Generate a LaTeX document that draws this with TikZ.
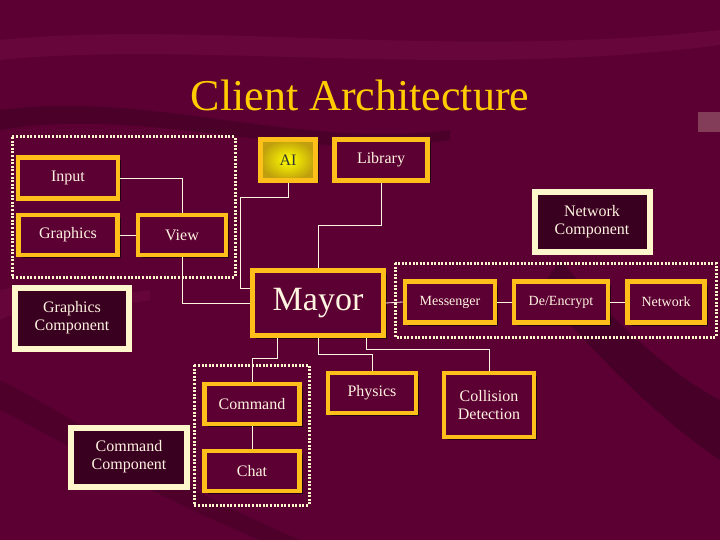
\documentclass[tikz,border=0pt]{standalone}
\usepackage{fontspec}
\setmainfont{Liberation Serif}
\usetikzlibrary{shadows}
\definecolor{bg}{HTML}{5C0033}
\definecolor{bgd}{HTML}{3A0020}
\definecolor{bgl}{HTML}{6E0A40}
\definecolor{gold}{HTML}{FFBF1A}
\definecolor{cream}{HTML}{FFF6CC}
\definecolor{txt}{HTML}{FFF4E0}
\definecolor{titlec}{HTML}{FFCC00}
\tikzset{
  box/.style={draw=gold, line width=4.5pt, fill=bg, text=txt, align=center, inner sep=0pt,
    font=\fontsize{16}{18}\selectfont,
    drop shadow={shadow xshift=3pt, shadow yshift=-3pt, fill=black, opacity=0.6}},
  cbox/.style={box, draw=cream, line width=6pt, fill=bgd},
  small/.style={font=\fontsize{14}{16}\selectfont},
  grp/.style={draw=cream, line width=3pt, dash pattern=on 2pt off 1.6pt},
  wire/.style={draw=txt, line width=0.8pt}
}
\begin{document}
\begin{tikzpicture}[x=1pt,y=-1pt]
\fill[bg] (0,0) rectangle (720,540);
\useasboundingbox (0,0) rectangle (720,540);
% background swooshes
\fill[bgl, opacity=0.6] (0,40) .. controls (200,20) and (450,60) .. (720,30) -- (720,45) .. controls (450,80) and (200,40) .. (0,60) -- cycle;
\fill[bgd, opacity=0.5] (0,110) .. controls (150,90) and (300,150) .. (450,130) -- (450,140) .. controls (300,165) and (150,105) .. (0,130) -- cycle;
\fill[bgd, opacity=0.6] (560,260) .. controls (620,330) and (680,380) .. (720,400) -- (720,460) .. controls (660,420) and (600,360) .. (540,290) -- cycle;
\fill[bgl, opacity=0.5] (0,290) .. controls (40,280) and (100,300) .. (150,290) -- (150,300) .. controls (100,310) and (40,300) .. (0,320) -- cycle;
\fill[bgd, opacity=0.4] (0,380) .. controls (80,420) and (160,480) .. (300,540) -- (260,540) .. controls (140,490) and (60,440) .. (0,410) -- cycle;
\fill[cream, opacity=0.25] (698,112) rectangle (720,132);

\node[text=titlec, font=\fontsize{44}{48}\selectfont] (title) at (360,95) {Client Architecture};

% groups
\draw[grp] (12,137) rectangle (235,277);
\draw[grp] (395,263) rectangle (716,337);
\draw[grp] (194,365) rectangle (309,505);

\node[box, minimum width=100pt, minimum height=41pt] (input) at (68,178) {Input};
\node[box, minimum width=99pt, minimum height=40pt] (graphics) at (68,235) {Graphics};
\node[box, minimum width=88pt, minimum height=40pt] (view) at (182,235) {View};
\node[box, minimum width=55pt, minimum height=41pt, inner color=yellow, outer color=gold!50!olive, text=black!80] (ai) at (288,160) {AI};
\node[box, minimum width=93pt, minimum height=41pt] (library) at (381,160) {Library};
\node[cbox, minimum width=115pt, minimum height=60pt] (netcomp) at (592,222) {Network\\Component};
\node[box, minimum width=131pt, minimum height=65pt, font=\fontsize{34}{36}\selectfont] (mayor) at (318,303) {Mayor};
\node[cbox, minimum width=114pt, minimum height=61pt] (graphcomp) at (72,318) {Graphics\\Component};
\node[box, small, minimum width=90pt, minimum height=41pt] (messenger) at (450,302) {Messenger};
\node[box, small, minimum width=94pt, minimum height=41pt] (deenc) at (561,302) {De/Encrypt};
\node[box, small, minimum width=77pt, minimum height=41pt] (network) at (666,302) {Network};
\node[box, minimum width=88pt, minimum height=40pt] (physics) at (372,393) {Physics};
\node[box, minimum width=90pt, minimum height=64pt] (collision) at (489,405) {Collision\\Detection};
\node[box, minimum width=95pt, minimum height=40pt] (command) at (252,404) {Command};
\node[box, minimum width=95pt, minimum height=40pt] (chat) at (252,471) {Chat};
\node[cbox, minimum width=116pt, minimum height=59pt] (cmdcomp) at (129,457) {Command\\Component};

% connectors
\draw[wire] (input.east) -| (view.north);
\draw[wire] (graphics.east) -- (view.west);
\draw[wire] (view.south) |- (mayor.west);
\draw[wire] (ai.south) |- (240,197) |- (mayor.west |- 0,288);
\draw[wire] (library.south) |- (318,225) -- (mayor.north);
\draw[wire] (mayor.east) -- (messenger.west);
\draw[wire] (messenger.east) -- (deenc.west);
\draw[wire] (deenc.east) -- (network.west);
\draw[wire] (mayor.south -| 277,0) |- (252,358) -- (command.north);
\draw[wire] (mayor.south) |- (372,354) -- (physics.north);
\draw[wire] (mayor.south -| 366,0) |- (489,349) -- (collision.north);
\draw[wire] (command.south) -- (chat.north);
\end{tikzpicture}
\end{document}
